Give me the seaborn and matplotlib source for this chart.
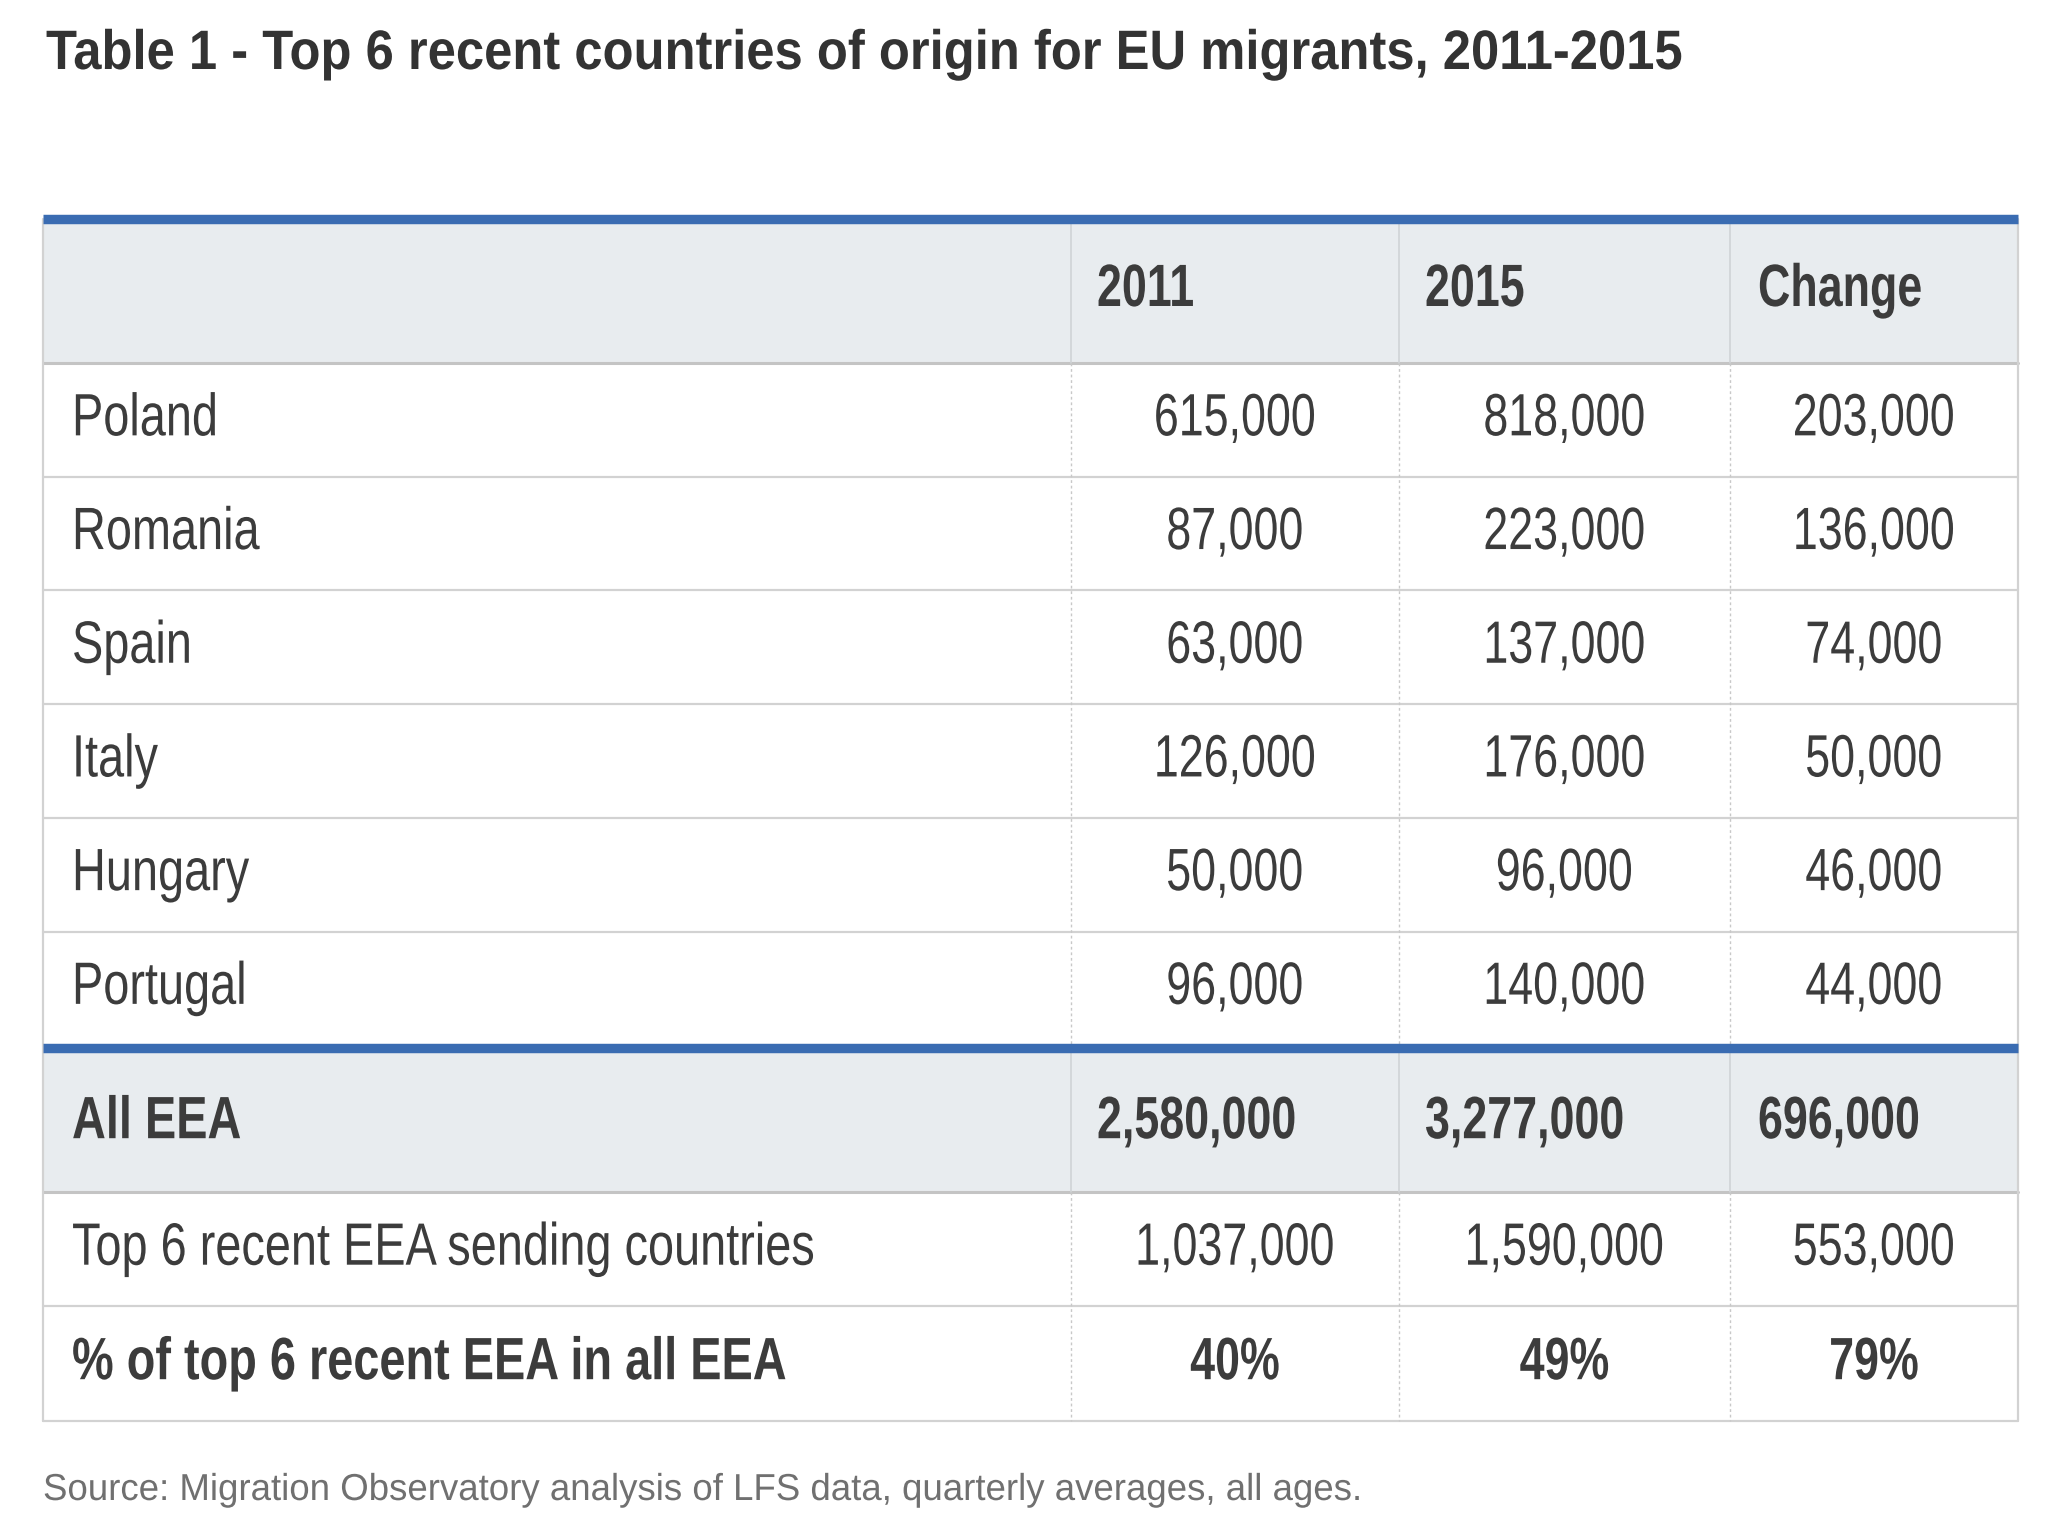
import matplotlib
matplotlib.use("Agg")
import matplotlib.pyplot as plt
import seaborn as sns
from matplotlib.patheffects import AbstractPathEffect
from matplotlib.transforms import Affine2D

# ---------------- data ----------------
title = "Table 1 - Top 6 recent countries of origin for EU migrants, 2011-2015"
source = "Source: Migration Observatory analysis of LFS data, quarterly averages, all ages."
col_headers = ["2011", "2015", "Change"]
countries = ["Poland", "Romania", "Spain", "Italy", "Hungary", "Portugal"]
v2011 = [615000, 87000, 63000, 126000, 50000, 96000]
v2015 = [818000, 223000, 137000, 176000, 96000, 140000]
v_change = [203000, 136000, 74000, 50000, 46000, 44000]
total_label = "All EEA"
total_vals = [2580000, 3277000, 696000]
top6_label = "Top 6 recent EEA sending countries"
top6_vals = [1037000, 1590000, 553000]
pct_label = "% of top 6 recent EEA in all EEA"
pct_vals = [40, 49, 79]

# ---------------- style ----------------
sns.set_theme(style="white")
plt.rcParams["font.family"] = ["Liberation Sans", "DejaVu Sans"]

BLUE = "#3a6cb2"
HEAD_BG = "#e8ecef"
GRID = "#d2d2d2"
TXT = "#3c3c3c"

fig = plt.figure(figsize=(20.48, 15.36), dpi=100)
ax = fig.add_axes([0, 0, 1, 1])
ax.set_xlim(0, 2048)
ax.set_ylim(1536, 0)
ax.axis("off")


class HScale(AbstractPathEffect):
    """Condense glyphs horizontally around an anchor x (display coords)."""
    def __init__(self, sx, x0):
        super().__init__()
        self.sx, self.x0 = sx, x0

    def draw_path(self, renderer, gc, tpath, affine, rgbFace=None):
        extra = Affine2D().translate(-self.x0, 0).scale(self.sx, 1).translate(self.x0, 0)
        renderer.draw_path(gc, tpath, affine + extra, rgbFace)


SX = 0.75
SX_LABEL = 0.785
FS = 43


def ctext(x, y, s, sx=SX, **kw):
    x0 = ax.transData.transform((x, y))[0]
    kw.setdefault("fontsize", FS)
    kw.setdefault("color", TXT)
    kw.setdefault("va", "center")
    return ax.text(x, y, s, path_effects=[HScale(sx, x0)], **kw)


# layout (pixels)
x_left, x_right = 43, 2018
col_edges = [x_left, 1071, 1399, 1730, x_right]
label_x = 72
head_left = [1097, 1425, 1758]
centers = [(col_edges[i + 1] + col_edges[i + 2]) / 2 for i in range(3)]

y_blue1 = 219
head_top, head_bot = 224, 363
row_h = 113.7
data_tops = [head_bot + i * row_h for i in range(6)]
y_blue2 = head_bot + 6 * row_h + 3
tot_top, tot_bot = y_blue2 + 5, y_blue2 + 144
top6_top, top6_bot = tot_bot, tot_bot + 114
pct_top, pct_bot = top6_bot, top6_bot + 115


def fmt(v):
    return f"{v:,}"


# backgrounds
ax.fill_between([x_left, x_right], head_top, head_bot, color=HEAD_BG, lw=0, zorder=0)
ax.fill_between([x_left, x_right], tot_top, tot_bot, color=HEAD_BG, lw=0, zorder=0)

# horizontal lines
for y in data_tops[1:] + [top6_bot, pct_bot]:
    ax.plot([x_left, x_right], [y, y], color=GRID, lw=1.6, zorder=1)
for y in [head_bot, tot_bot]:
    ax.plot([x_left, x_right], [y, y], color="#c4c4c4", lw=2.2, zorder=1)

# vertical lines
for x in [x_left, x_right]:
    ax.plot([x, x], [y_blue1, pct_bot], color=GRID, lw=1.6, zorder=1)
for x in col_edges[1:4]:
    ax.plot([x, x], [head_top, head_bot], color="#cfd3d6", lw=1.2, zorder=1)
    ax.plot([x, x], [tot_top, tot_bot], color="#cfd3d6", lw=1.2, zorder=1)
    ax.plot([x, x], [head_bot, y_blue2], color="#c8c8c8", lw=1.0, ls=(0, (2, 2)), zorder=1)
    ax.plot([x, x], [tot_bot, pct_bot], color="#c8c8c8", lw=1.0, ls=(0, (2, 2)), zorder=1)

# blue rules
for y in [y_blue1, y_blue2]:
    ax.plot([x_left, x_right], [y, y], color=BLUE, lw=6.8, solid_capstyle="butt", zorder=3)

# header
for x, h in zip(head_left, col_headers):
    ctext(x, (head_top + head_bot) / 2 - 3, h, ha="left", fontweight="bold")

# data rows
for i, c in enumerate(countries):
    yc = data_tops[i] + row_h / 2
    ctext(label_x, yc, c, sx=SX_LABEL, ha="left")
    for x, v in zip(centers, [v2011[i], v2015[i], v_change[i]]):
        ctext(x, yc, fmt(v), ha="center")

# total row
yc = (tot_top + tot_bot) / 2
ctext(label_x, yc, total_label, sx=SX_LABEL, ha="left", fontweight="bold")
for x, v in zip(head_left, total_vals):
    ctext(x, yc, fmt(v), ha="left", fontweight="bold")

# top 6 row
yc = (top6_top + top6_bot) / 2
ctext(label_x, yc, top6_label, sx=SX_LABEL, ha="left")
for x, v in zip(centers, top6_vals):
    ctext(x, yc, fmt(v), ha="center")

# pct row
yc = (pct_top + pct_bot) / 2
ctext(label_x, yc, pct_label, sx=SX_LABEL, ha="left", fontweight="bold")
for x, v in zip(centers, pct_vals):
    ctext(x, yc, f"{v}%", ha="center", fontweight="bold")

# title and source: height from font size, width fitted by condensing
fig.canvas.draw()
renderer = fig.canvas.get_renderer()


def fitted(x, y, s, target_w, size, max_w, **kw):
    probe = ax.text(x, y, s, fontsize=size, ha="left", va="center", **kw)
    w = probe.get_window_extent(renderer).width
    if w > max_w:
        size = size * max_w / w
        w = max_w
    probe.remove()
    return ctext(x, y, s, sx=target_w / w, fontsize=size, ha="left", **kw)


fitted(46, 55, title, 1634, 40, 1990, fontweight="bold", color="#333333")
fitted(43, 1490, source, 1319, 27, 1990, color="#707070")

fig.savefig("out.png", dpi=100, facecolor="white")
